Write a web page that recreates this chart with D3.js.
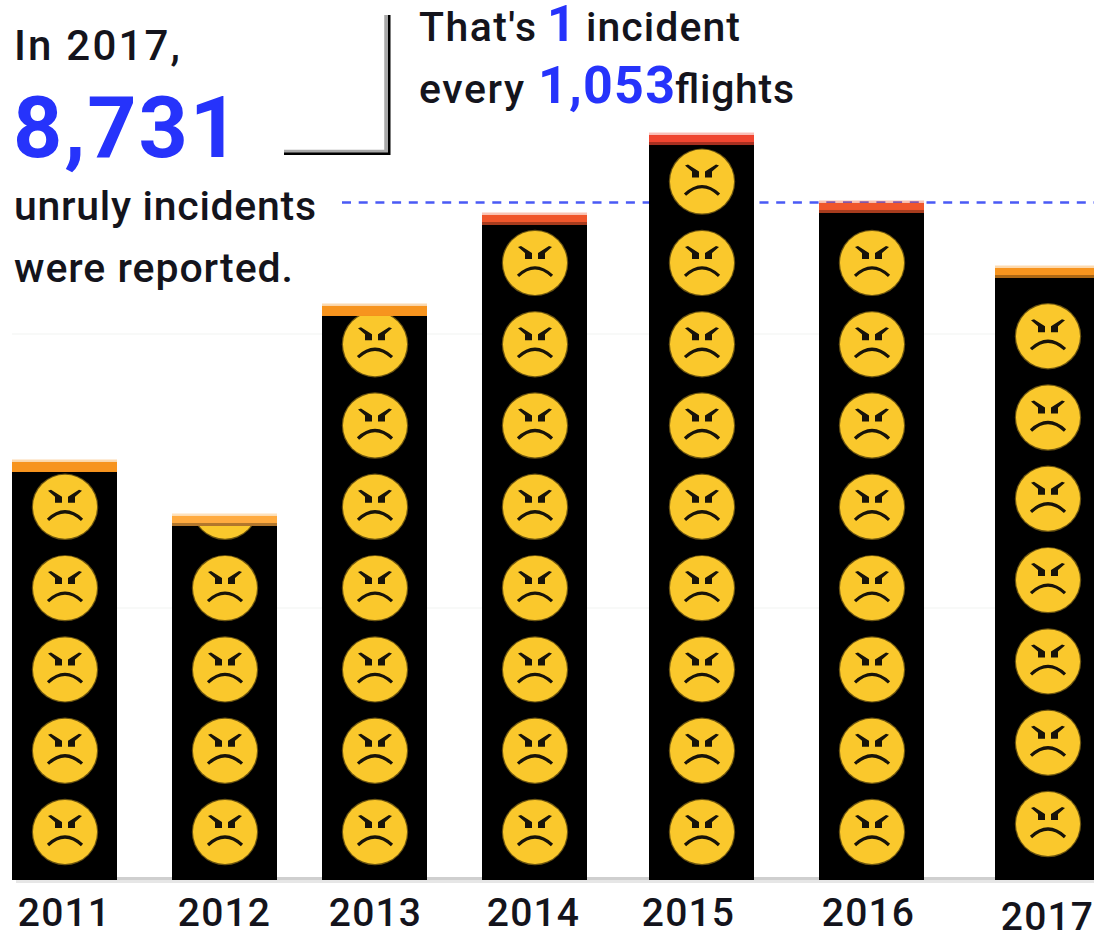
<!DOCTYPE html>
<html>
<head>
<meta charset="utf-8">
<script src="https://cdn.jsdelivr.net/npm/d3@7"></script>
<style>
  html, body { margin: 0; padding: 0; background: #fff; overflow: hidden; }
  text { font-family: Roboto, sans-serif; font-weight: 500; fill: #14141c; }
</style>
</head>
<body>
<div id="chart"></div>
<script>
const years = ["2011", "2012", "2013", "2014", "2015", "2016", "2017"]
const incidents = [5968, 5199, 8190, 9486, 10625, 9657, 8731]
const faceCounts = [5, 5, 7, 8, 9, 8, 7]
const gridValues = [3890, 7790]

const width = 1094
const height = 933
const baseline = 880
const barWidth = 105
const capHeight = 10
const yellow = "#fac82c"
const blue = "#2633fb"

const svg = d3.select("#chart")
    .append("svg")
    .attr("width", width)
    .attr("height", height)

// pixels per incident comes from the 2017 bar, the only one with a printed value
const y = d3.scaleLinear().domain([0, 8731]).range([baseline + 1, 268])

// the bars are not evenly spaced in the original, so no band scale here
const barLeft = d3.scaleOrdinal().domain(years).range([12, 172, 322, 482, 649, 819, 995])
const labelX = d3.scaleOrdinal().domain(years).range([64, 224, 375, 533, 688, 868, 1047])
const capColor = d3.scaleOrdinal().domain(years)
    .range(["#f7941e", "#ffab40", "#f7941e", "#f0562b", "#f04530", "#f0562b", "#f7941e"])

const bars = years.map((year, i) => ({ year: year, value: incidents[i], faces: faceCounts[i] }))

// faint grid
svg.selectAll(".grid")
    .data(gridValues)
    .enter().append("line")
    .attr("class", "grid")
    .attr("x1", 12)
    .attr("x2", width)
    .attr("y1", d => y(d))
    .attr("y2", d => y(d))
    .style("stroke", "#f8f9f8")
    .style("stroke-width", 2)

// dashed line, sits behind the bars
svg.append("line")
    .attr("x1", 342)
    .attr("x2", width)
    .attr("y1", 202.5)
    .attr("y2", 202.5)
    .style("stroke", "#4a5af5")
    .style("stroke-width", 2.5)
    .style("stroke-dasharray", "9 7.7")

// axis line, two tones
svg.append("rect").attr("x", 16).attr("y", baseline - 3).attr("width", width - 16).attr("height", 3).style("fill", "#cfcfcf")
svg.append("rect").attr("x", 16).attr("y", baseline).attr("width", width - 16).attr("height", 3).style("fill", "#e6e6e6")

const defs = svg.append("defs")

defs.selectAll("clipPath")
    .data(bars)
    .enter().append("clipPath")
    .attr("id", d => "clip" + d.year)
    .append("rect")
    .attr("x", d => barLeft(d.year))
    .attr("y", d => y(d.value) + capHeight)
    .attr("width", barWidth)
    .attr("height", d => baseline - y(d.value) - capHeight)

const bar = svg.selectAll(".bar")
    .data(bars)
    .enter().append("g")
    .attr("class", "bar")

bar.append("rect")
    .attr("x", d => barLeft(d.year))
    .attr("y", d => y(d.value))
    .attr("width", barWidth)
    .attr("height", d => baseline - y(d.value))
    .style("fill", "#000")

// pale fringe on top of the cap
bar.append("rect")
    .attr("x", d => barLeft(d.year))
    .attr("y", d => y(d.value) - 2.5)
    .attr("width", barWidth)
    .attr("height", 3)
    .style("fill", d => capColor(d.year))
    .style("opacity", 0.35)

bar.append("rect")
    .attr("x", d => barLeft(d.year))
    .attr("y", d => y(d.value))
    .attr("width", barWidth)
    .attr("height", capHeight)
    .style("fill", d => capColor(d.year))

bar.filter(d => d.year != "2011" && d.year != "2013")
    .append("rect")
    .attr("x", d => barLeft(d.year))
    .attr("y", d => y(d.value) + capHeight - 3)
    .attr("width", barWidth)
    .attr("height", 3)
    .style("fill", "#000")
    .style("opacity", 0.3)

// one face every 81.3px, counted up from the bottom of the bar
const faceRow = d3.scaleLinear().domain([0, 1]).range([832, 750.7])

function drawFace(g) {
    g.append("circle").attr("r", 33.2).style("fill", "#6b5410")
    g.append("circle").attr("r", 32).style("fill", yellow)
    // brows and eyes
    g.append("path")
        .attr("d", "M-17,-16 L-14,-17 L-3,-10 L-3,-4 L-10,-4 L-10,-10 Z M17,-16 L14,-17 L3,-10 L3,-4 L10,-4 L10,-10 Z")
        .style("fill", "#17130a")
    // mouth
    g.append("path")
        .attr("d", "M-17,13 Q0,-3 17,13")
        .style("fill", "none")
        .style("stroke", "#17130a")
        .style("stroke-width", 3.2)
}

bar.each(function (d) {
    // the last column sits a little higher than the others
    const lift = d.year == "2017" ? 8 : 0
    d3.select(this).append("g")
        .attr("clip-path", "url(#clip" + d.year + ")")
        .selectAll(".face")
        .data(d3.range(d.faces))
        .enter().append("g")
        .attr("class", "face")
        .attr("transform", r => "translate(" + (barLeft(d.year) + barWidth / 2 + 0.5) + "," + (faceRow(r) - lift) + ")")
        .call(drawFace)
})

// year labels
const axis = svg.append("g")
    .attr("transform", "translate(0," + baseline + ")")
    .call(d3.axisBottom(labelX).tickSize(0))
axis.select(".domain").remove()
axis.selectAll("text")
    .attr("y", d => d == "2017" ? 50 : 46)
    .attr("dy", 0)
    .style("font-size", "39px")
    .style("font-family", "Roboto, sans-serif")
    .style("letter-spacing", "1.2px")

// bracket next to the big number
svg.append("path")
    .attr("d", "M284,151.5 H386 V15")
    .style("fill", "none")
    .style("stroke", "#a8a8a8")
    .style("stroke-width", 3.5)
svg.append("path")
    .attr("d", "M284,153.7 H389.2 V15")
    .style("fill", "none")
    .style("stroke", "#000")
    .style("stroke-width", 2.6)

function label(x, y, text, size, length, color, weight) {
    svg.append("text")
        .attr("x", x)
        .attr("y", y)
        .attr("textLength", length)
        .attr("lengthAdjust", "spacing")
        .style("font-size", size + "px")
        .style("fill", color || null)
        .style("font-weight", weight || null)
        .text(text)
}

label(14, 60, "In 2017,", 42, 166)
label(13, 157, "8,731", 86, 226, blue, 700)
label(14, 220, "unruly incidents", 41, 302)
label(14, 282, "were reported.", 41, 279)

label(419, 41, "That's", 41, 117)
label(547, 41, "1", 50, 26, blue, 700)
label(586, 41, "incident", 41, 154)
label(419, 103, "every", 41, 105)
label(538, 103, "1,053", 52, 137, blue, 700)
label(675, 103, "flights", 41, 119)
</script>
</body>
</html>
